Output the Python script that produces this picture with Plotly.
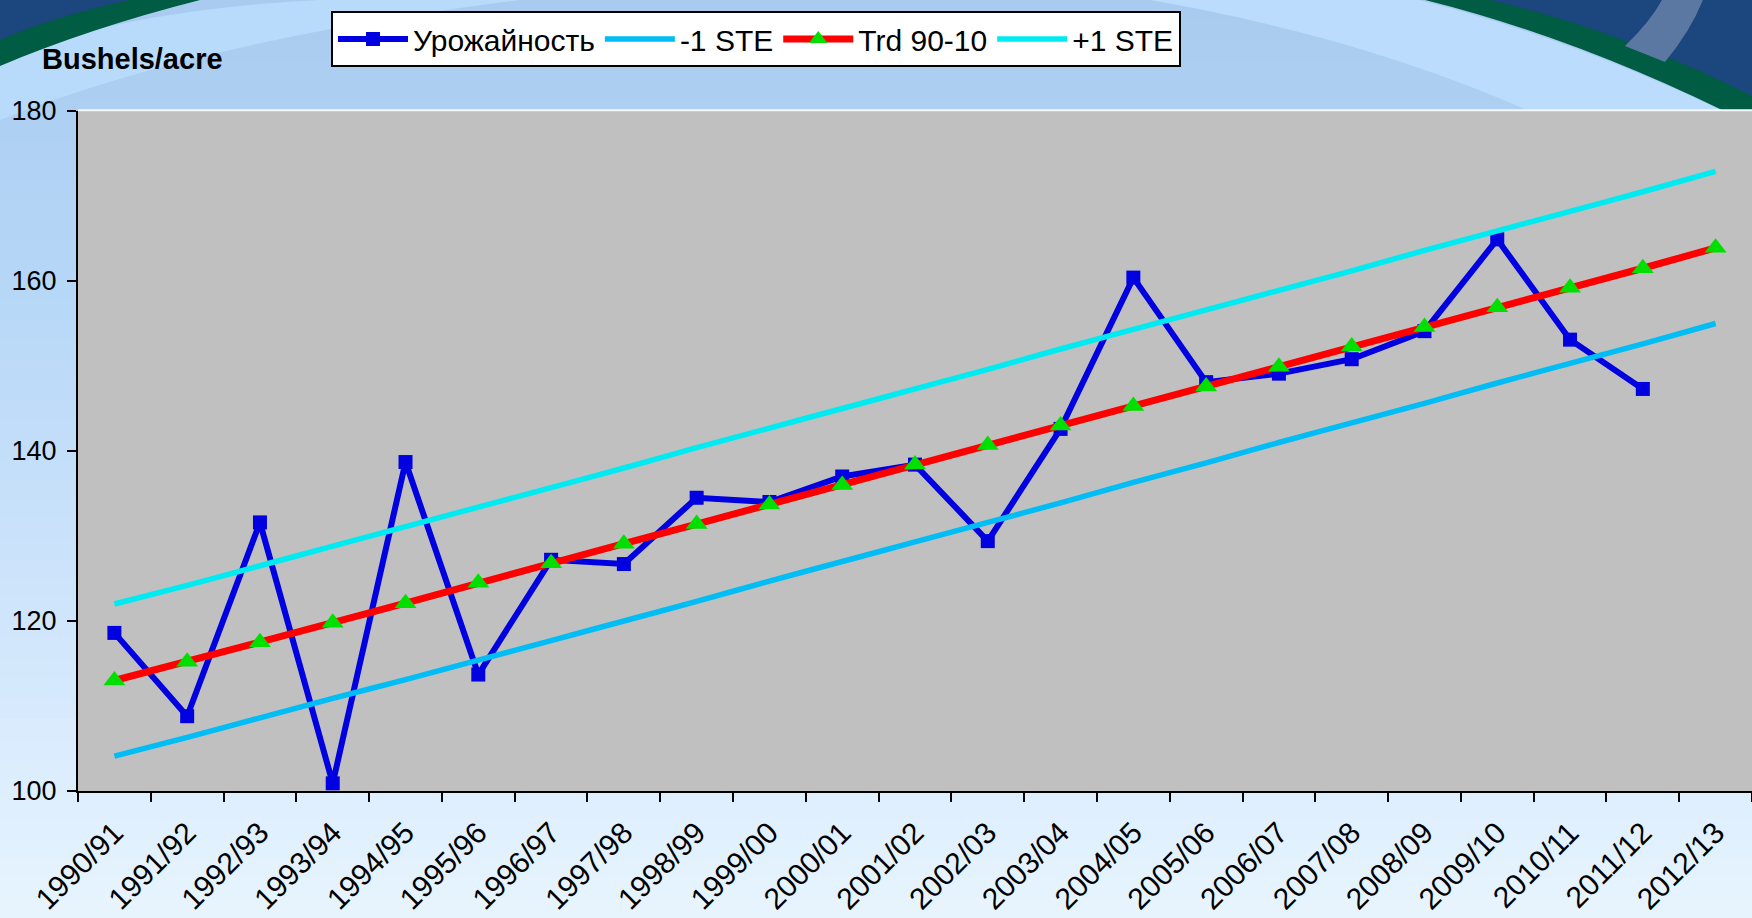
import plotly.graph_objects as go

# сезоны
seasons = ["1990/91", "1991/92", "1992/93", "1993/94", "1994/95", "1995/96",
           "1996/97", "1997/98", "1998/99", "1999/00", "2000/01", "2001/02",
           "2002/03", "2003/04", "2004/05", "2005/06", "2006/07", "2007/08",
           "2008/09", "2009/10", "2010/11", "2011/12", "2012/13"]

# урожайность, bushels/acre
yield_vals = [118.6, 108.8, 131.6, 100.9, 138.7, 113.7, 127.2, 126.7, 134.5, 134.0,
              137.0, 138.4, 129.4, 142.6, 160.4, 148.1, 149.1, 150.8, 154.1, 164.9,
              153.1, 147.3, None]
trend_vals = [113.0, 115.2, 117.5, 119.8, 122.1, 124.5, 126.8, 129.1, 131.4, 133.7,
              136.0, 138.4, 140.7, 143.0, 145.3, 147.6, 149.9, 152.3, 154.6, 156.9,
              159.2, 161.5, 163.9]
minus_ste = [104.1, 106.3, 108.6, 110.9, 113.1, 115.4, 117.7, 120.0, 122.3, 124.7,
             127.0, 129.3, 131.6, 133.9, 136.3, 138.6, 141.0, 143.3, 145.6, 148.0,
             150.3, 152.6, 155.0]
plus_ste = [122.0, 124.2, 126.5, 128.8, 131.1, 133.4, 135.7, 138.0, 140.4, 142.7,
            145.0, 147.3, 149.6, 152.0, 154.3, 156.6, 158.9, 161.2, 163.6, 165.9,
            168.2, 170.5, 172.9]

W, H = 1752, 918
L, R, T, B = 78, 0, 111, 127
PW, PH = W - L - R, H - T - B


def px(x, y):
    """пиксели -> координаты paper"""
    return (x - L) / PW, (H - B - y) / PH


def path(cmds):
    out = []
    for c in cmds:
        op, pts = c[0], c[1:]
        coords = " ".join("%.4f,%.4f" % px(*p) for p in pts)
        out.append(op + coords)
    return " ".join(out) + " Z"


fig = go.Figure()

fig.add_trace(go.Scatter(x=seasons, y=yield_vals, name="Урожайность", mode="lines+markers",
                         line=dict(color="#0000E0", width=6),
                         marker=dict(symbol="square", size=14, color="#0000E0")))
fig.add_trace(go.Scatter(x=seasons, y=minus_ste, name="-1 STE", mode="lines",
                         line=dict(color="#00BEF5", width=5.5, shape="spline", smoothing=0.3)))
fig.add_trace(go.Scatter(x=seasons, y=trend_vals, name="Trd 90-10", mode="lines+markers",
                         line=dict(color="#FF0000", width=7),
                         marker=dict(symbol="triangle-up", size=19, color="#00E000")))
fig.add_trace(go.Scatter(x=seasons, y=plus_ste, name="+1 STE", mode="lines",
                         line=dict(color="#00EAF2", width=5.5, shape="spline", smoothing=0.3)))

shapes = []
# фон: вертикальный градиент
stops = [(0, (168, 203, 239)), (300, (184, 216, 248)), (600, (207, 229, 252)), (918, (232, 245, 255))]
n = 46
for i in range(n):
    y0 = H * i / n
    y1 = H * (i + 1) / n + 1
    yc = (y0 + y1) / 2
    for (a, ca), (b, cb) in zip(stops[:-1], stops[1:]):
        if a <= yc <= b:
            t = (yc - a) / (b - a)
            col = tuple(int(ca[k] + (cb[k] - ca[k]) * t) for k in range(3))
            break
    xa, ya = px(0, y0)
    xb, yb = px(W, y1)
    shapes.append(dict(type="rect", xref="paper", yref="paper", x0=xa, x1=xb, y0=yb, y1=ya,
                       fillcolor="rgb(%d,%d,%d)" % col, line=dict(width=0), layer="below"))

# светлые полосы сверху
shapes.append(dict(type="path", xref="paper", yref="paper", layer="below", line=dict(width=0),
                   fillcolor="#BBDCFC",
                   path=path([("M", (1150, 0)), ("L", (1419, 0)), ("Q", (1580, 40), (1752, 125)),
                              ("L", (1560, 125)), ("Q", (1380, 40), (1150, 0))])))
shapes.append(dict(type="path", xref="paper", yref="paper", layer="below", line=dict(width=0),
                   fillcolor="#B8DAFB",
                   path=path([("M", (0, 60)), ("Q", (120, 10), (320, 0)), ("L", (520, 0)),
                              ("Q", (200, 40), (0, 120))])))
# уголки шаблона
shapes.append(dict(type="path", xref="paper", yref="paper", layer="below", line=dict(width=0),
                   fillcolor="#005C42",
                   path=path([("M", (0, 0)), ("L", (200, 0)), ("Q", (90, 28), (0, 66))])))
shapes.append(dict(type="path", xref="paper", yref="paper", layer="below", line=dict(width=0),
                   fillcolor="#1C467E",
                   path=path([("M", (0, 0)), ("L", (130, 0)), ("Q", (55, 16), (0, 40))])))
shapes.append(dict(type="path", xref="paper", yref="paper", layer="below", line=dict(width=0),
                   fillcolor="#005C42",
                   path=path([("M", (1425, 0)), ("L", (1752, 0)), ("L", (1752, 125)),
                              ("Q", (1585, 40), (1425, 0))])))
shapes.append(dict(type="path", xref="paper", yref="paper", layer="below", line=dict(width=0),
                   fillcolor="#1C467E",
                   path=path([("M", (1490, 0)), ("L", (1752, 0)), ("L", (1752, 96)),
                              ("Q", (1625, 32), (1490, 0))])))
shapes.append(dict(type="path", xref="paper", yref="paper", layer="below", line=dict(width=0),
                   fillcolor="#5A78A2",
                   path=path([("M", (1662, 0)), ("L", (1703, 0)), ("Q", (1690, 32), (1665, 62)),
                              ("L", (1625, 46)), ("Q", (1650, 22), (1662, 0))])))
# область графика
shapes.append(dict(type="rect", xref="paper", yref="paper", x0=0, x1=1, y0=0, y1=1,
                   fillcolor="#C0C0C0", line=dict(width=0), layer="below"))
# светлая линия над областью графика
shapes.append(dict(type="line", xref="paper", yref="paper", x0=0, x1=1, y0=1.001, y1=1.001,
                   line=dict(color="#F4F8FC", width=2)))

fig.update_layout(
    width=W, height=H,
    margin=dict(l=L, r=R, t=T, b=B),
    paper_bgcolor="#C8E2FA",
    plot_bgcolor="#C0C0C0",
    font=dict(family="Liberation Sans, Arial, sans-serif", color="#000000"),
    shapes=shapes,
    showlegend=True,
    legend=dict(orientation="h", x=(331 - L) / PW, y=(H - B - 11) / PH,
                xanchor="left", yanchor="top",
                bgcolor="#FFFFFF", bordercolor="#000000", borderwidth=2,
                font=dict(size=30), itemwidth=70, tracegroupgap=0),
    xaxis=dict(type="category", range=[-0.5, 22.5], showgrid=False, zeroline=False,
               showline=True, linecolor="#000000", linewidth=2,
               ticks="outside", ticklen=9, tickwidth=2, tickcolor="#000000",
               tickson="boundaries", tickangle=-45, tickfont=dict(size=30),
               ticklabelstandoff=10),
    yaxis=dict(range=[100, 180], dtick=20, showgrid=False, zeroline=False,
               showline=True, linecolor="#000000", linewidth=2,
               ticks="outside", ticklen=9, tickwidth=2, tickcolor="#000000",
               tickfont=dict(size=27), ticklabelstandoff=5),
    xaxis2=dict(overlaying="x", anchor="y", side="bottom", range=[-0.5, 22.5],
                tick0=0.5, dtick=1, ticks="inside", ticklen=9, tickwidth=2,
                tickcolor="#000000", showticklabels=False, showgrid=False,
                zeroline=False, showline=False),
    yaxis2=dict(overlaying="y", anchor="x", side="left", range=[100, 180], dtick=20,
                ticks="inside", ticklen=9, tickwidth=2, tickcolor="#000000",
                showticklabels=False, showgrid=False, zeroline=False, showline=False),
    annotations=[dict(text="<b>Bushels/acre</b>", xref="paper", yref="paper",
                      x=(40 - L) / PW, y=(H - B - 59) / PH, xanchor="left", yanchor="middle",
                      showarrow=False, font=dict(size=29, color="#000000"))],
)

fig.write_html("out.html", config={"displayModeBar": False},
               post_script="document.body.style.margin='0px';document.body.style.overflow='hidden';")
